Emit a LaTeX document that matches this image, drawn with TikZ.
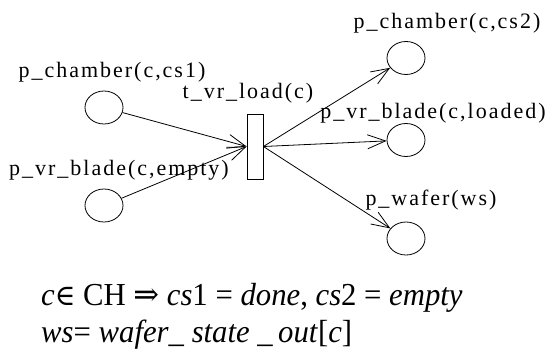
\documentclass[tikz,border=0pt]{standalone}
\usepackage{fontspec}
\setmainfont{Liberation Serif}
\newfontfamily\lblfont[LetterSpace=9]{Liberation Serif}
\newfontfamily\eqfont[FakeStretch=0.96]{Liberation Serif}
\newfontfamily\symbfont[FakeStretch=0.96]{DejaVu Serif}
\usetikzlibrary{arrows.meta, shapes.geometric}

\begin{document}
\begin{tikzpicture}[x=1pt, y=-1pt,
        place/.style={draw, ellipse, minimum width=38pt, minimum height=33pt, inner sep=0pt, line width=0.8pt},
        trans/.style={draw, rectangle, minimum width=16pt, minimum height=65pt, inner sep=0pt, line width=0.8pt},
        lbl/.style={font=\lblfont\fontsize{22}{24}\selectfont, inner sep=0pt},
        arr/.style={-{Straight Barb[length=18pt, width=14pt]}, line width=0.8pt},
        eqn/.style={font=\eqfont\fontsize{32}{36}\selectfont, anchor=base west, inner sep=0pt}]

        \useasboundingbox (0,0) rectangle (548,358);

        \node[place] (cs1)    at (104, 107.5) {};
        \node[place] (empty)  at (104, 205.5) {};
        \node[trans] (load)   at (255, 146.5) {};
        \node[place] (cs2)    at (406, 58)    {};
        \node[place] (loaded) at (406, 140)   {};
        \node[place] (wafer)  at (406, 238.5) {};

        \node[lbl] (cs1lbl)    at (112, 72)  {p\_chamber(c,cs1)};
        \node[lbl] (emptylbl)  at (119, 170) {p\_vr\_blade(c,empty)};
        \node[lbl] (loadlbl)   at (248, 93)  {t\_vr\_load(c)};
        \node[lbl] (cs2lbl)    at (447, 23)  {p\_chamber(c,cs2)};
        \node[lbl] (loadedlbl) at (433, 113) {p\_vr\_blade(c,loaded)};
        \node[lbl] (waferlbl)  at (431, 200) {p\_wafer(ws)};

        \draw[arr] (cs1)   -- (load.west);
        \draw[arr] (empty) -- (load.west);
        \draw[arr] (load.east) -- (cs2);
        \draw[arr] (load.east) -- (loaded);
        \draw[arr] (load.east) -- (wafer);

        % transition guard
        \node[eqn] (rule) at (41, 305) {\textit{c}{\symbfont\fontsize{29}{30}\selectfont ∈} CH {\symbfont\fontsize{32}{30}\selectfont ⇒} \textit{cs}1 = \textit{done}, \textit{cs}2 = \textit{empty}};
        \node[eqn] (ws)   at (41, 342) {\textit{ws}= \textit{wafer}\_ \textit{state} \_\,\textit{out}[\textit{c}]};

    \end{tikzpicture}
\end{document}
